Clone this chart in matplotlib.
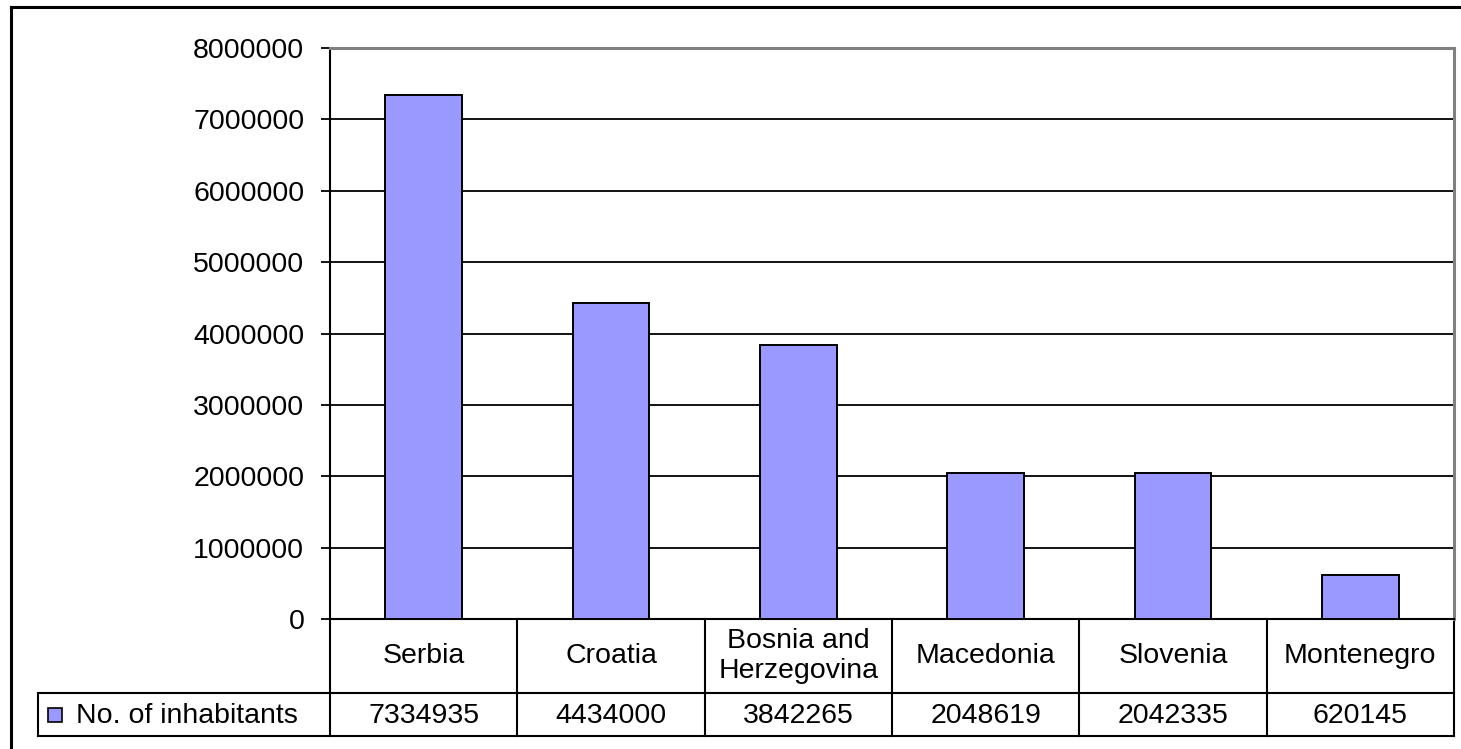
"""Population bar chart with an Excel-style data table underneath."""

import matplotlib
matplotlib.use("Agg")
import matplotlib.pyplot as plt
import matplotlib.transforms as mtransforms
from matplotlib.lines import Line2D
from matplotlib.patches import Rectangle

countries = ["Serbia", "Croatia", "Bosnia and\nHerzegovina", "Macedonia", "Slovenia", "Montenegro"]
inhabitants = [7334935, 4434000, 3842265, 2048619, 2042335, 620145]
series_name = "No. of inhabitants"
yticks = list(range(0, 8000001, 1000000))

W, H = 1461, 749
FS = 20.5
BAR_COLOR = "#9999FF"
plt.rcParams["font.family"] = ["Liberation Sans", "DejaVu Sans"]


def fx(px):
    return px / W


def fy(py):
    return 1 - py / H


fig = plt.figure(figsize=(W / 100, H / 100), dpi=100)

# plot area
ax = fig.add_axes([fx(330), fy(619), fx(1454) - fx(330), fy(48) - fy(619)])
xs = list(range(len(countries)))
ax.bar(xs, inhabitants, width=0.41, color=BAR_COLOR, edgecolor="black",
       linewidth=1.4, zorder=3)
ax.set_xlim(-0.5, len(countries) - 0.5)
ax.set_ylim(0, 8000000)
ax.set_yticks(yticks)
ax.set_yticklabels([str(v) for v in yticks], fontsize=FS)
ax.set_xticks([])
ax.yaxis.grid(True, color="black", linewidth=1.3)
ax.set_axisbelow(True)
ax.tick_params(axis="y", direction="out", length=6.5, width=1.3, pad=12, colors="black")
for side in ("top", "right"):
    ax.spines[side].set_color("#808080")
    ax.spines[side].set_linewidth(2.2)
ax.spines["left"].set_linewidth(1.5)
ax.spines["bottom"].set_linewidth(1.5)

# data table below the plot area
trans = mtransforms.blended_transform_factory(ax.transData, fig.transFigure)
lw = 1.5
right = fx(1454)
row_top, row_mid, row_bot = fy(619), fy(693), fy(736)

for y in (row_mid, row_bot):
    fig.add_artist(Line2D([fx(38), right], [y, y], color="black", lw=lw))
fig.add_artist(Line2D([fx(38), fx(38)], [row_mid, row_bot], color="black", lw=lw))
for i in range(len(countries) + 1):
    ax.add_line(Line2D([i - 0.5, i - 0.5], [row_top, row_bot], transform=trans,
                       color="black", lw=lw, clip_on=False))

for i, (name, val) in enumerate(zip(countries, inhabitants)):
    ax.text(i, fy(656), name, transform=trans, ha="center", va="center",
            fontsize=FS, linespacing=1.25, clip_on=False)
    ax.text(i, fy(716), str(val), transform=trans, ha="center", va="center",
            fontsize=FS, clip_on=False)

# legend key in the table header
fig.add_artist(Rectangle((fx(48), fy(722)), fx(14), 14 / H, facecolor=BAR_COLOR,
                         edgecolor="black", lw=1.2, transform=fig.transFigure))
fig.text(fx(76), fy(716), series_name, ha="left", va="center", fontsize=FS)

# chart border (left and top edges)
fig.add_artist(Line2D([fx(11), fx(11)], [0, fy(7)], color="black", lw=2.2))
fig.add_artist(Line2D([fx(11), 1], [fy(7), fy(7)], color="black", lw=2.2))

fig.savefig("out.png", dpi=100)
